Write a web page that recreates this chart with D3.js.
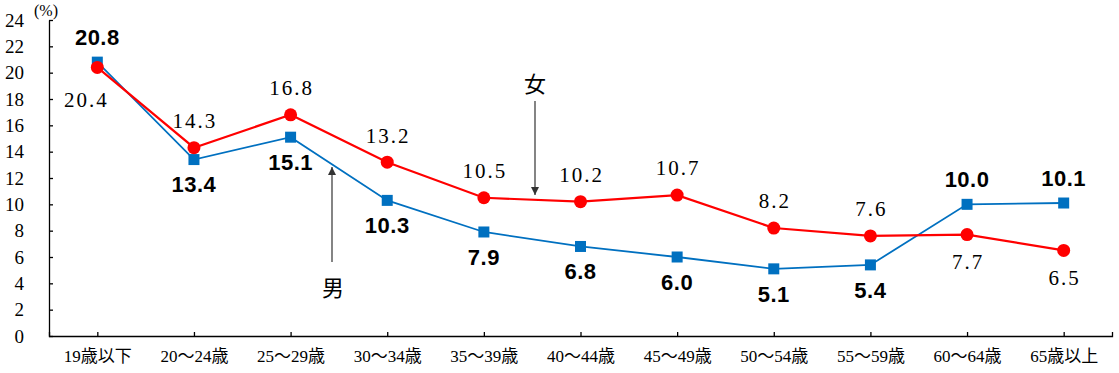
<!DOCTYPE html>
<html>
<head>
<meta charset="utf-8">
<script src="https://cdn.jsdelivr.net/npm/d3@7"></script>
<style>
  body { margin: 0; background: #fff; }
  .axis text { fill: #000; }
</style>
</head>
<body>
<script>
// categories + values
var ages = ["19歳以下", "20～24歳", "25～29歳", "30～34歳", "35～39歳", "40～44歳",
            "45～49歳", "50～54歳", "55～59歳", "60～64歳", "65歳以上"];
var male = [20.8, 13.4, 15.1, 10.3, 7.9, 6.8, 6.0, 5.1, 5.4, 10.0, 10.1];
var female = [20.4, 14.3, 16.8, 13.2, 10.5, 10.2, 10.7, 8.2, 7.6, 7.7, 6.5];
var yTicks = [0, 2, 4, 6, 8, 10, 12, 14, 16, 18, 20, 22, 24];

// label side: -1 above the point, 1 below
var maleSide = [-1, 1, 1, 1, 1, 1, 1, 1, 1, -1, -1];
var femaleSide = [1.2, -1, -1, -1, -1, -1, -1, -1, -1, 1, 1];

var width = 1119, height = 373;
var plot = { left: 49, right: 1112, top: 20, bottom: 336 };

var svg = d3.select("body").append("svg")
    .attr("width", width)
    .attr("height", height);

var x = d3.scalePoint()
    .domain(ages)
    .range([plot.left, plot.right])
    .padding(0.5);

var y = d3.scaleLinear()
    .domain([0, 24])
    .range([plot.bottom, plot.top]);

// axes
var yAxis = d3.axisLeft(y)
    .tickValues(yTicks)
    .tickSizeInner(-4)
    .tickSizeOuter(0)
    .tickPadding(25);

svg.append("g")
    .attr("class", "axis")
    .attr("transform", "translate(" + plot.left + ",0)")
    .call(yAxis)
    .call(function (g) {
        g.selectAll("text")
            .attr("font-family", "'Liberation Serif', serif")
            .attr("font-size", 19);
        g.selectAll("line, path").attr("stroke", "#000").attr("stroke-width", 1.3);
    });

var xAxis = d3.axisBottom(x)
    .tickSizeInner(-4)
    .tickSizeOuter(-4)
    .tickPadding(14);

svg.append("g")
    .attr("class", "axis")
    .attr("transform", "translate(0," + plot.bottom + ")")
    .call(xAxis)
    .call(function (g) {
        g.selectAll("text")
            .attr("font-family", "'Liberation Serif', 'Noto Sans CJK JP', serif")
            .attr("font-size", 17);
        g.selectAll("line, path").attr("stroke", "#000").attr("stroke-width", 1.3);
    });

svg.append("text")
    .attr("x", 34).attr("y", 16)
    .attr("font-family", "'Liberation Serif', serif")
    .attr("font-size", 16)
    .text("(%)");

var line = d3.line()
    .x(function (d, i) { return x(ages[i]); })
    .y(function (d) { return y(d); });

// male (blue, squares)
svg.append("path")
    .datum(male)
    .attr("d", line)
    .attr("fill", "none")
    .attr("stroke", "#0070C0")
    .attr("stroke-width", 1.8);

svg.selectAll(".sq")
    .data(male)
    .enter().append("rect")
    .attr("class", "sq")
    .attr("x", function (d, i) { return x(ages[i]) - 5.5; })
    .attr("y", function (d) { return y(d) - 5.5; })
    .attr("width", 11)
    .attr("height", 11)
    .attr("fill", "#0070C0");

// female (red, circles)
svg.append("path")
    .datum(female)
    .attr("d", line)
    .attr("fill", "none")
    .attr("stroke", "#FF0000")
    .attr("stroke-width", 2.2);

svg.selectAll(".dot")
    .data(female)
    .enter().append("circle")
    .attr("class", "dot")
    .attr("cx", function (d, i) { return x(ages[i]); })
    .attr("cy", function (d) { return y(d); })
    .attr("r", 6.5)
    .attr("fill", "#FF0000");

// value labels
svg.selectAll(".mlab")
    .data(male)
    .enter().append("text")
    .attr("class", "mlab")
    .attr("x", function (d, i) { return x(ages[i]); })
    .attr("y", function (d, i) { return y(d) + maleSide[i] * 25; })
    .attr("dy", "0.36em")
    .attr("text-anchor", "middle")
    .attr("font-family", "'Liberation Sans', sans-serif")
    .attr("font-weight", "bold")
    .attr("font-size", 22)
    .attr("letter-spacing", 0.5)
    .text(function (d) { return d.toFixed(1); });

svg.selectAll(".flab")
    .data(female)
    .enter().append("text")
    .attr("class", "flab")
    // first label is nudged left, clear of the blue square
    .attr("x", function (d, i) { return x(ages[i]) + (i === 0 ? -11 : 1); })
    .attr("y", function (d, i) { return y(d) + femaleSide[i] * 27; })
    .attr("dy", "0.35em")
    .attr("text-anchor", "middle")
    .attr("font-family", "'Liberation Serif', serif")
    .attr("font-size", 21)
    .attr("letter-spacing", 2)
    .text(function (d) { return d.toFixed(1); });

// annotation arrows
svg.append("defs").append("marker")
    .attr("id", "head")
    .attr("viewBox", "0 0 10 10")
    .attr("refX", 10).attr("refY", 5)
    .attr("markerWidth", 8).attr("markerHeight", 8)
    .attr("orient", "auto-start-reverse")
    .attr("markerUnits", "userSpaceOnUse")
    .append("path")
    .attr("d", "M0,0L10,5L0,10z")
    .attr("fill", "#333");

svg.append("line")
    .attr("x1", 535).attr("y1", 101)
    .attr("x2", 535).attr("y2", 195)
    .attr("stroke", "#333").attr("stroke-width", 1.2)
    .attr("marker-end", "url(#head)");

svg.append("text")
    .attr("x", 535).attr("y", 92)
    .attr("text-anchor", "middle")
    .attr("font-family", "'Noto Sans CJK JP', sans-serif")
    .attr("font-size", 22)
    .text("女");

svg.append("line")
    .attr("x1", 332).attr("y1", 262)
    .attr("x2", 332).attr("y2", 167)
    .attr("stroke", "#333").attr("stroke-width", 1.2)
    .attr("marker-end", "url(#head)");

svg.append("text")
    .attr("x", 333).attr("y", 296)
    .attr("text-anchor", "middle")
    .attr("font-family", "'Noto Sans CJK JP', sans-serif")
    .attr("font-size", 22)
    .text("男");
</script>
</body>
</html>
